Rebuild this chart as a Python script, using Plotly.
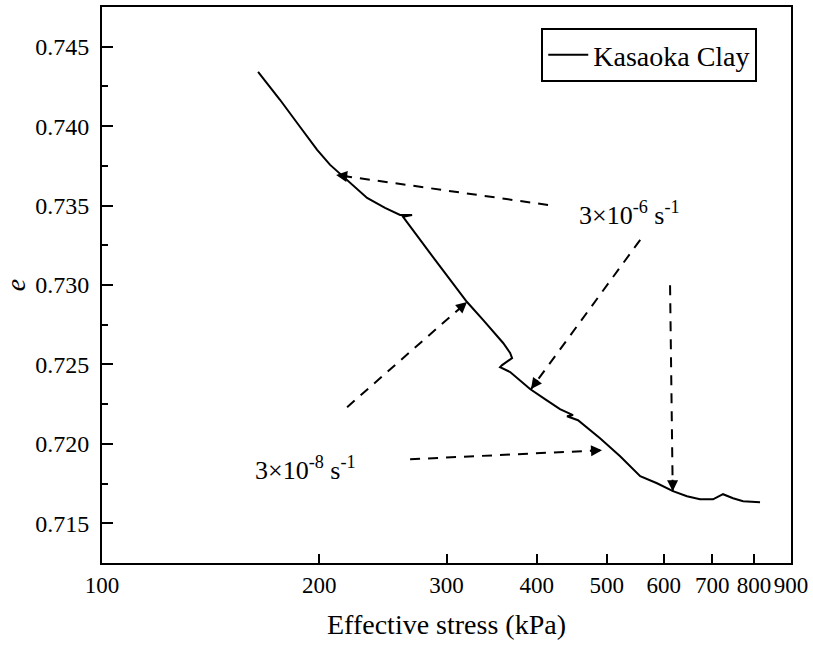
import math
import plotly.graph_objects as go

# ---- data ----
stress_kpa = [164.5, 176.4, 188.0, 198.6, 207.0, 215.8, 220.6, 232.9, 246.6, 258.7,
              268.8, 261.2, 289.3, 320.3, 337.1, 359.4, 367.5, 369.8, 358.2, 355.9,
              367.5, 391.6, 410.7, 430.8, 449.1, 440.6, 456.3, 489.5, 521.9, 556.4,
              587.0, 617.7, 645.9, 673.3, 701.9, 724.6, 748.2, 772.4, 815.4]
void_ratio = [0.74342, 0.74166, 0.73996, 0.73851, 0.73756, 0.73681, 0.73643, 0.73548, 0.73485, 0.73441,
              0.73441, 0.73429, 0.73158, 0.72893, 0.72780, 0.72635, 0.72572, 0.72540, 0.72496, 0.72483,
              0.72452, 0.72345, 0.72282, 0.72219, 0.72181, 0.72174, 0.72149, 0.72036, 0.71922, 0.71796,
              0.71752, 0.71702, 0.71670, 0.71651, 0.71651, 0.71683, 0.71658, 0.71639, 0.71632]

# annotation arrows: tail -> tip (stress, e)
arrow_tail_stress = [414.7, 556.4, 612.0, 218.5, 267.1]
arrow_tail_e = [0.73504, 0.73284, 0.72999, 0.72231, 0.71903]
arrow_tip_stress = [211.0, 392.8, 617.2, 320.3, 492.6]
arrow_tip_e = [0.73693, 0.72345, 0.71702, 0.72893, 0.71960]

label_fast = "3\u00d710<sup>-6</sup> s<sup>-1</sup>"
label_slow = "3\u00d710<sup>-8</sup> s<sup>-1</sup>"

x_tick_vals = [100, 200, 300, 400, 500, 600, 700, 800, 900]
y_tick_vals = [0.715, 0.720, 0.725, 0.730, 0.735, 0.740, 0.745]

X_RANGE = [100, 900]
Y_RANGE = [0.7125, 0.7475]

W, H = 813, 647
ML, MR, MT, MB = 102, 22, 7, 84
FONT = "Liberation Serif"

fig = go.Figure()

fig.add_trace(go.Scatter(
    x=stress_kpa, y=void_ratio, mode="lines", name="Kasaoka Clay",
    line=dict(color="black", width=2), showlegend=True))

# pixel mapping helpers (for arrowhead direction only)
pw = W - ML - MR
ph = H - MT - MB
lx0, lx1 = math.log10(X_RANGE[0]), math.log10(X_RANGE[1])


def to_px(s, e):
    px = ML + pw * (math.log10(s) - lx0) / (lx1 - lx0)
    py = MT + ph * (Y_RANGE[1] - e) / (Y_RANGE[1] - Y_RANGE[0])
    return px, py


annotations = []
for ts, te, hs, he in zip(arrow_tail_stress, arrow_tail_e, arrow_tip_stress, arrow_tip_e):
    fig.add_trace(go.Scatter(
        x=[ts, hs], y=[te, he], mode="lines", showlegend=False, hoverinfo="skip",
        line=dict(color="black", width=2, dash="10px,8px")))
    tx, ty = to_px(ts, te)
    hx, hy = to_px(hs, he)
    d = math.hypot(tx - hx, ty - hy)
    L = 13
    annotations.append(dict(
        x=math.log10(hs), y=he, xref="x", yref="y",
        ax=(tx - hx) / d * L, ay=(ty - hy) / d * L,
        showarrow=True, arrowhead=2, arrowsize=1.1, arrowwidth=2,
        arrowcolor="black", text=""))

annotations.append(dict(
    x=math.log10(455), y=0.7345, xref="x", yref="y", xanchor="left", yanchor="middle",
    text=label_fast, showarrow=False, font=dict(family=FONT, size=26, color="black")))
annotations.append(dict(
    x=math.log10(162), y=0.71845, xref="x", yref="y", xanchor="left", yanchor="middle",
    text=label_slow, showarrow=False, font=dict(family=FONT, size=26, color="black")))

fig.update_layout(
    width=W, height=H,
    margin=dict(l=ML, r=MR, t=MT, b=MB, autoexpand=False),
    paper_bgcolor="white", plot_bgcolor="white",
    font=dict(family=FONT, color="black", size=23),
    annotations=annotations,
    legend=dict(
        x=0.951, y=0.962, xanchor="right", yanchor="top",
        bordercolor="black", borderwidth=2, bgcolor="white",
        font=dict(family=FONT, size=28, color="black"),
        itemwidth=40),
)

fig.update_xaxes(
    type="log", range=[lx0, lx1],
    tickvals=x_tick_vals, ticktext=[str(v) for v in x_tick_vals],
    ticks="inside", ticklen=9, tickwidth=2, tickcolor="black",
    showline=True, linewidth=2, linecolor="black", mirror=True,
    showgrid=False, zeroline=False,
    tickfont=dict(family=FONT, size=23, color="black"),
    ticklabelstandoff=0,
    title=dict(text="Effective stress (kPa)", font=dict(family=FONT, size=28, color="black"),
               standoff=18),
)

fig.update_yaxes(
    range=Y_RANGE, tickvals=y_tick_vals, ticktext=["%.3f" % v for v in y_tick_vals],
    ticks="inside", ticklen=11, tickwidth=2, tickcolor="black",
    minor=dict(ticks="inside", ticklen=6, tickwidth=2, tickcolor="black", dtick=0.0025,
               tick0=0.7125, showgrid=False),
    showline=True, linewidth=2, linecolor="black", mirror=True,
    showgrid=False, zeroline=False,
    tickfont=dict(family=FONT, size=24, color="black"),
    ticklabelstandoff=6,
    title=dict(text="<i>e</i>", font=dict(family=FONT, size=28, color="black"), standoff=6),
)

fig.write_html("out.html")
